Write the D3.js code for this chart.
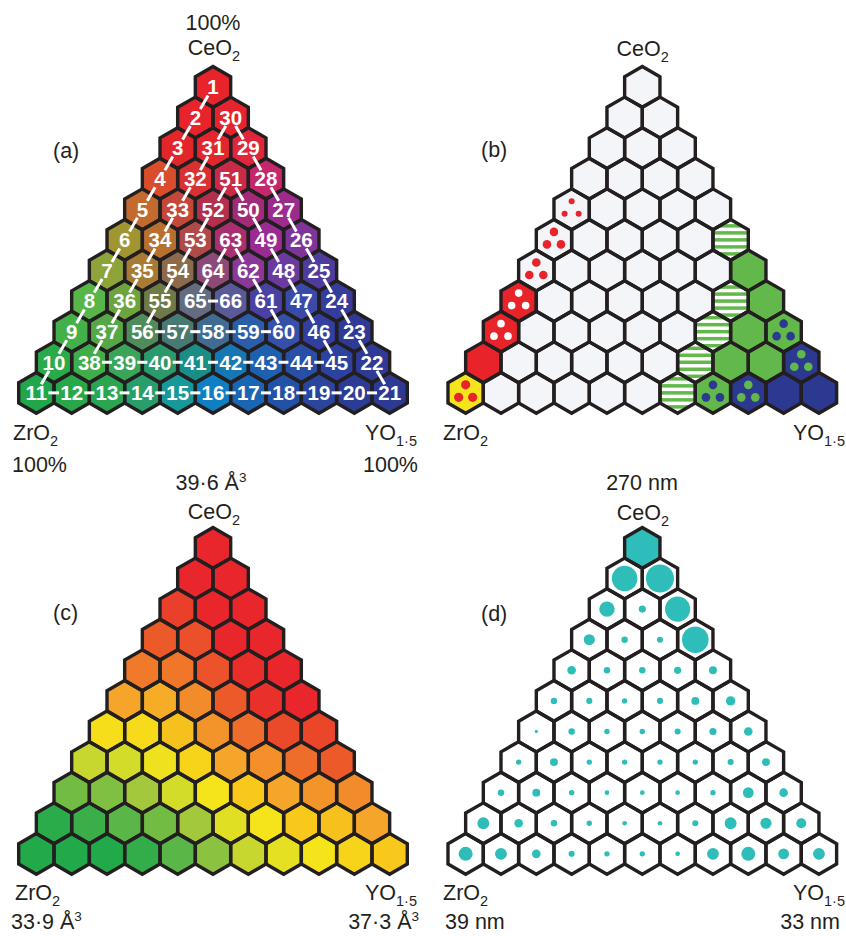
<!DOCTYPE html>
<html><head><meta charset="utf-8">
<script src="https://cdn.jsdelivr.net/npm/d3@7"></script>
<style>
body{margin:0;background:#fff;}
text{font-family:"Liberation Sans",Arial,Helvetica,sans-serif;}
</style></head><body>
<svg id="chart" width="846" height="936"></svg>
<script>
// ---------------- DATA ----------------
// (a) sample numbering, row by row from CeO2 apex to the ZrO2–YO1.5 base
const sampleNumbers = [
  [1],
  [2,30],
  [3,31,29],
  [4,32,51,28],
  [5,33,52,50,27],
  [6,34,53,63,49,26],
  [7,35,54,64,62,48,25],
  [8,36,55,65,66,61,47,24],
  [9,37,56,57,58,59,60,46,23],
  [10,38,39,40,41,42,43,44,45,22],
  [11,12,13,14,15,16,17,18,19,20,21]
];
// (a) composition colours
const compositionColors = [
  ["#e8232b"],
  ["#e8232b","#e52430"],
  ["#e3262a","#e2262e","#e0263a"],
  ["#d94d2a","#da2f33","#c92a45","#c4276a"],
  ["#c36b2e","#c4473a","#b42e4e","#a22a78","#9b2b8c"],
  ["#a09530","#b8702e","#b04a4a","#a83070","#982c92","#7e3599"],
  ["#8ea43a","#a87b35","#8c6a4c","#8c4a78","#8a3898","#6a3a9e","#4e3c9c"],
  ["#58b548","#6ea43e","#6e7a48","#646c82","#5a5a98","#4a42a2","#3a4aa8","#363c9a"],
  ["#44b049","#54a846","#4e8c5c","#467a72","#406c92","#2a5eaa","#3450a8","#323ea0","#2e3a96"],
  ["#2aab4a","#3fad4a","#3aa558","#2a9a6a","#1a8e86","#1578b4","#1e60b0","#284ea6","#2c42a0","#2e3a96"],
  ["#21a649","#28a84a","#2aa650","#2a9e6a","#17999a","#0f7ec2","#1a66b4","#2252a6","#2b449c","#2c3c96","#2d3a94"]
];
// (b) phases: n none, rs/rl fluorite dots (small/large), Rw, R, Yr, S stripes, G, Gb, Bg, B
const phases = [
  ["n"],
  ["n","n"],
  ["n","n","n"],
  ["n","n","n","n"],
  ["rs","n","n","n","n"],
  ["rl","n","n","n","n","S"],
  ["rl","n","n","n","n","n","G"],
  ["Rw","n","n","n","n","n","S","G"],
  ["Rw","n","n","n","n","n","S","G","Gb"],
  ["R","n","n","n","n","n","S","G","G","Bg"],
  ["Yr","n","n","n","n","n","S","Gb","Bg","B","B"]
];
// (c) unit-cell volume, Å^3
const volumes = [
  [39.6],
  [39.6,39.6],
  [39.2,39.6,39.6],
  [38.8,38.95,39.6,39.6],
  [38.3,38.35,38.9,39.5,39.6],
  [37.8,37.7,38.1,38.8,39.45,39.6],
  [36.6,36.7,37.4,38.0,38.5,39.05,39.1],
  [35.5,35.6,36.2,36.9,37.8,38.05,38.5,38.8],
  [34.8,34.9,35.2,35.6,36.4,37.3,37.8,38.0,38.1],
  [34.0,34.2,34.6,34.8,35.2,35.9,36.4,37.3,37.4,37.8],
  [33.9,33.9,33.9,34.1,34.6,35.0,35.5,36.0,36.4,36.9,37.3]
];
const volumeStops  = [33.9,34.6,35.2,35.6,36.4,37.3,37.8,38.3,38.8,39.6];
const volumeColors = ["#22aa4a","#5ab647","#a4c83c","#d4dc2a","#f6e41a","#f8c81a","#f5a52a","#f07a2a","#ec5a2a","#e8262b"];
// (d) particle size, nm
const particleSizes = [
  [270],
  [71,78],
  [43,20,70],
  [31,18,17,74],
  [24,18,18,20,22],
  [18,17,15,17,22,26],
  [9,18,15,15,17,20,24],
  [15,22,15,15,15,15,17,22],
  [18,22,15,13,13,13,15,30,24],
  [33,24,18,15,13,13,17,33,31,28],
  [39,33,24,17,15,15,13,33,39,30,33]
];

// ---------------- LAYOUT ----------------
const DX = 35.33, R = DX/Math.sqrt(3), DY = 1.5*R;
const INK = "#231f20";
const FS = 21.5;
const svg = d3.select("#chart");
const hexD = d3.line()(d3.range(6).map(i => { const a=(60*i-90)*Math.PI/180; return [R*Math.cos(a), R*Math.sin(a)]; })) + "Z";
const defs = svg.append("defs");
defs.append("clipPath").attr("id","hexclip").append("path").attr("d", hexD);

function cellsOf(rows){ const out=[]; rows.forEach((row,r)=>row.forEach((v,k)=>out.push({r,k,v}))); return out; }

function panel(cx, y0, rows){
  const x = d3.scaleLinear().domain([-5,5]).range([cx-5*DX, cx+5*DX]);
  const y = d3.scaleLinear().domain([0,10]).range([y0, y0+10*DY]);
  const g = svg.append("g");
  const cells = cellsOf(rows).map(d => Object.assign(d, {x:x(d.k - d.r/2), y:y(d.r)}));
  const cg = g.selectAll("g.cell").data(cells).join("g").attr("class","cell")
    .attr("transform", d => `translate(${d.x},${d.y})`);
  return {g, cells, cg, outline(){
    g.append("g").selectAll("path").data(cells).join("path")
      .attr("d", hexD).attr("transform", d => `translate(${d.x},${d.y})`)
      .attr("fill","none").attr("stroke",INK).attr("stroke-width",3.4).attr("stroke-linejoin","miter");
  }};
}

function label(x, y, anchor, main, extra, kind){
  const t = svg.append("text").attr("x",x).attr("y",y).attr("text-anchor",anchor)
    .attr("font-size",FS).attr("fill",INK);
  t.append("tspan").text(main);
  if (extra){
    const s = t.append("tspan").text(extra);
    if (kind==="sub") s.attr("font-size",14.5).attr("dy",6);
    else s.attr("font-size",13.5).attr("dy",-8);
  }
  return t;
}

// ---------------- PANEL A ----------------
{
  const P = panel(213, 86.9, sampleNumbers);
  const colorOf = {};
  cellsOf(compositionColors).forEach(d => colorOf[d.r+"_"+d.k] = d.v);
  P.cg.append("path").attr("d", hexD).attr("fill", d => colorOf[d.r+"_"+d.k]);
  P.outline();
  const byNum = {};
  P.cells.forEach(d => byNum[d.v] = d);
  const nums = d3.range(1, 66);
  const lg = P.g.append("g");
  const tg = P.g.append("g");
  const texts = tg.selectAll("text").data(P.cells).join("text")
    .attr("x", d => d.x).attr("y", d => d.y).attr("dy","0.36em")
    .attr("text-anchor","middle").attr("font-size",20.5).attr("font-weight","bold")
    .attr("fill","#fff").text(d => d.v);
  texts.each(function(d){ d.hw = this.getBBox().width/2 + 1.2; });
  const hh = 8.5;
  lg.selectAll("line").data(nums).join("line")
    .each(function(n){
      const a = byNum[n], b = byNum[n+1];
      const vx = b.x-a.x, vy = b.y-a.y, L = Math.hypot(vx,vy), ux=vx/L, uy=vy/L;
      const ta = Math.min(Math.abs(ux)>1e-6 ? a.hw/Math.abs(ux) : 1e9, Math.abs(uy)>1e-6 ? hh/Math.abs(uy) : 1e9);
      const tb = Math.min(Math.abs(ux)>1e-6 ? b.hw/Math.abs(ux) : 1e9, Math.abs(uy)>1e-6 ? hh/Math.abs(uy) : 1e9);
      d3.select(this).attr("x1", a.x+ux*ta).attr("y1", a.y+uy*ta).attr("x2", b.x-ux*tb).attr("y2", b.y-uy*tb);
    })
    .attr("stroke","#fff").attr("stroke-width",3);
  label(213, 30, "middle", "100%");
  label(214, 55, "middle", "CeO", "2", "sub");
  label(53, 158, "start", "(a)");
  label(13, 440, "start", "ZrO", "2", "sub");
  label(417, 440, "end", "YO", "1·5", "sub");
  label(12, 471.5, "start", "100%");
  label(418, 471.5, "end", "100%");
}

// ---------------- PANEL B ----------------
{
  const P = panel(642.3, 86.9, phases);
  const RED="#e8242a", GREEN="#62b84a", BLUE="#2b3990", YEL="#f6e51c", BG="#f3f5f8";
  const fillOf = {n:BG, rs:BG, rl:BG, Rw:RED, R:RED, Yr:YEL, S:"#fff", G:GREEN, Gb:GREEN, Bg:BLUE, B:BLUE};
  const dotOf = {rs:[RED,3], rl:[RED,4.3], Rw:["#fff",3.8], Yr:[RED,4.6], Gb:[BLUE,4.3], Bg:[GREEN,4.3]};
  P.cg.append("path").attr("d", hexD).attr("fill", d => fillOf[d.v]);
  const stripeCells = P.cg.filter(d => d.v==="S").append("g").attr("clip-path","url(#hexclip)");
  stripeCells.selectAll("rect").data(d3.range(-3,4)).join("rect")
    .attr("x",-R).attr("width",2*R).attr("y", j => j*7 - 1.75).attr("height",3.5).attr("fill",GREEN);
  const offs = [[0,-8],[-7,4.5],[7,4.5]];
  P.cg.filter(d => dotOf[d.v]).each(function(d){
    const [c, r] = dotOf[d.v];
    d3.select(this).selectAll("circle").data(offs).join("circle")
      .attr("cx", o => o[0]).attr("cy", o => o[1]).attr("r", r).attr("fill", c);
  });
  P.outline();
  label(642.7, 56, "middle", "CeO", "2", "sub");
  label(481, 157, "start", "(b)");
  label(443, 440, "start", "ZrO", "2", "sub");
  label(845, 440, "end", "YO", "1·5", "sub");
}

// ---------------- PANEL C ----------------
{
  const P = panel(213, 547.9, volumes);
  const color = d3.scaleLinear().domain(volumeStops).range(volumeColors).interpolate(d3.interpolateRgb).clamp(true);
  P.cg.append("path").attr("d", hexD).attr("fill", d => color(d.v));
  P.outline();
  label(211, 490, "middle", "39·6 Å", "3", "sup");
  label(214, 518.5, "middle", "CeO", "2", "sub");
  label(53, 620, "start", "(c)");
  label(15, 900, "start", "ZrO", "2", "sub");
  label(11, 929, "start", "33·9 Å", "3", "sup");
  label(417, 900, "end", "YO", "1·5", "sub");
  label(419, 929, "end", "37·3 Å", "3", "sup");
}

// ---------------- PANEL D ----------------
{
  const P = panel(642.3, 547.9, particleSizes);
  const rScale = d3.scaleLinear().domain([0, 39]).range([0, 7]);
  P.cg.append("path").attr("d", hexD).attr("fill","#fff");
  P.cg.append("g").attr("clip-path","url(#hexclip)")
    .append("circle").attr("r", d => rScale(d.v)).attr("fill","#2ebdb8");
  P.outline();
  label(642, 490, "middle", "270 nm");
  label(643, 519.5, "middle", "CeO", "2", "sub");
  label(481, 621, "start", "(d)");
  label(443, 900, "start", "ZrO", "2", "sub");
  label(445, 929, "start", "39 nm");
  label(845, 900, "end", "YO", "1·5", "sub");
  label(840, 929, "end", "33 nm");
}
</script>
</body></html>
